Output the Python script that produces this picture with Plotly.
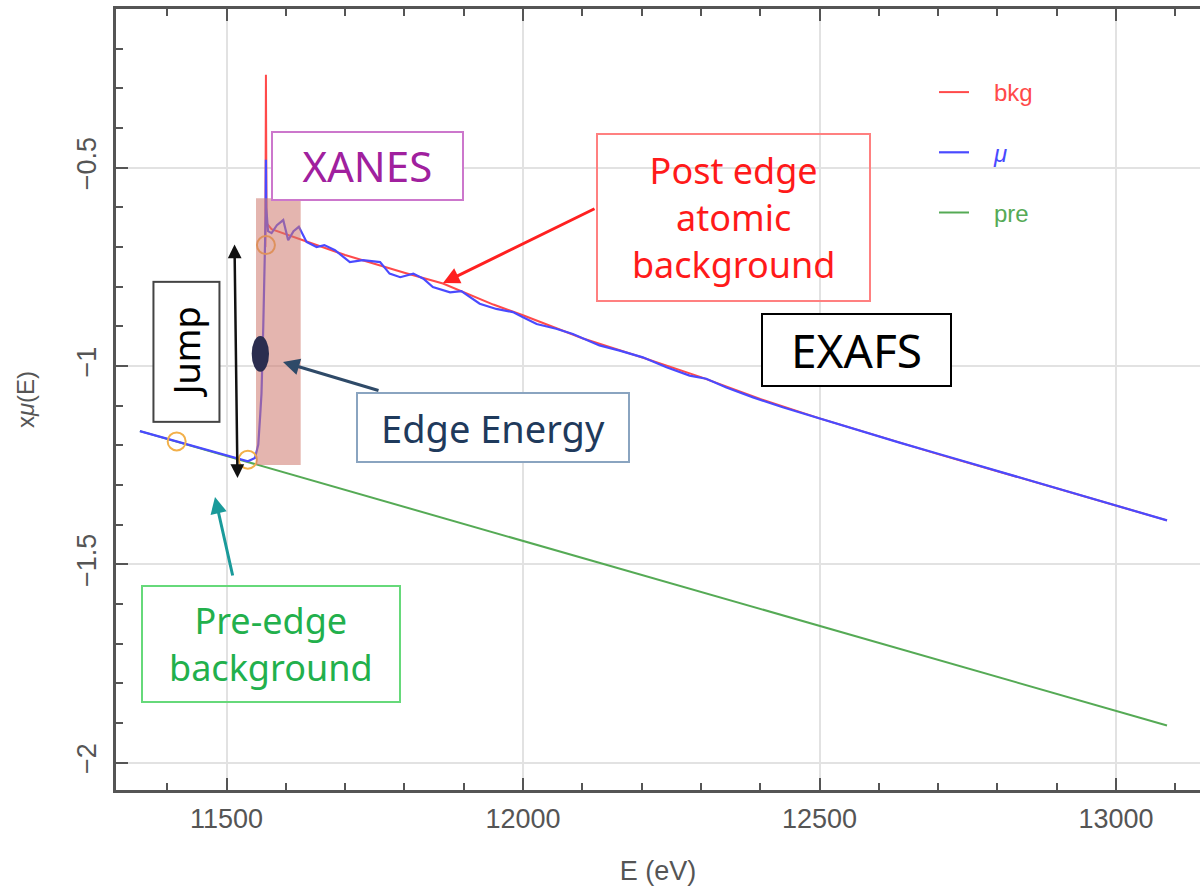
import plotly.graph_objects as go

# ---------------- data ----------------
pre_E = [11354, 13086]
pre_mu = [-1.164, -1.906]

mu_E = [11354, 11400, 11450, 11500, 11536, 11548, 11553.6, 11557, 11559, 11562, 11565,
        11566, 11566.5, 11567, 11570, 11576, 11585, 11595.7, 11604, 11613, 11622, 11635,
        11652, 11665, 11683, 11708, 11730, 11745, 11759, 11775, 11793, 11815, 11832, 11848,
        11877, 11896, 11910, 11927, 11955, 11983, 12000, 12023, 12056, 12084, 12129, 12163,
        12202, 12242, 12281, 12309, 12343, 12388, 12438, 12495, 12551, 12635, 12700, 12760,
        12830, 12900, 12960, 13030, 13086]
mu_val = [-1.164, -1.183, -1.205, -1.226, -1.240, -1.232, -1.198, -1.12, -1.07, -0.90, -0.733,
          -0.62, -0.48, -0.60, -0.66, -0.665, -0.645, -0.632, -0.683, -0.66, -0.649, -0.687,
          -0.700, -0.695, -0.708, -0.738, -0.733, -0.735, -0.738, -0.767, -0.776, -0.767, -0.780, -0.801,
          -0.814, -0.811, -0.826, -0.843, -0.856, -0.864, -0.877, -0.894, -0.906, -0.919, -0.948, -0.961,
          -0.978, -1.003, -1.024, -1.032, -1.054, -1.079, -1.104, -1.130, -1.155, -1.193, -1.221, -1.247,
          -1.278, -1.308, -1.334, -1.363, -1.389]

bkg_E = [11565.5, 11566.5, 11567.5, 11576, 11629, 11700, 11800, 11865, 11950, 12000, 12100,
         12200, 12300, 12400, 12500, 12600, 12700, 12800, 12900, 13000, 13086]
bkg_val = [-0.70, -0.266, -0.64, -0.655, -0.683, -0.720, -0.765, -0.792, -0.845, -0.872, -0.930,
           -0.978, -1.028, -1.083, -1.132, -1.177, -1.222, -1.265, -1.308, -1.352, -1.389]

marker_E = [11416, 11536, 11566.5]
marker_val = [-1.19, -1.236, -0.695]

# ---------------- helpers: pixel position -> data coords ----------------
def X(px):
    return 11500 + (px - 226.5) / 0.593

def Y(py):
    return -0.5 - (py - 167.7) / 396.7

RED = "#ff4a4a"
BLUE = "#4a4aff"
GREEN = "#55aa55"
AX = "#555555"
SANS = "Liberation Sans, Arial, sans-serif"
TICKFONT = dict(family=SANS, size=27, color="#555555")
ANNFONT = "Comic Sans MS, Noto Sans, sans-serif"
GAP = "\u00a0\u00a0\u00a0"

fig = go.Figure()
fig.add_trace(go.Scatter(x=pre_E, y=pre_mu, mode="lines", name=f"{GAP}<span style='color:{GREEN}'>pre</span>",
                         line=dict(color=GREEN, width=2), legendgroup="c", legendrank=3))
fig.add_trace(go.Scatter(x=bkg_E, y=bkg_val, mode="lines", name=f"{GAP}<span style='color:{RED}'>bkg</span>",
                         line=dict(color=RED, width=2), legendgroup="a", legendrank=1))
fig.add_trace(go.Scatter(x=mu_E, y=mu_val, mode="lines", name=f"{GAP}<span style='color:{BLUE}'><i>μ</i></span>",
                         line=dict(color=BLUE, width=2.2), legendgroup="b", legendrank=2))
fig.add_trace(go.Scatter(x=marker_E, y=marker_val, mode="markers", showlegend=False,
                         marker=dict(symbol="circle-open", size=18, color="#f2b04a", line=dict(width=2))))

x_range = [X(116), X(1200)]
y_range = [Y(790), Y(9)]

minor_x = dict(ticks="inside", ticklen=7, tickwidth=2, tickcolor=AX, dtick=100, showgrid=False)
minor_y = dict(ticks="inside", ticklen=7, tickwidth=2, tickcolor=AX, dtick=0.1, showgrid=False)

fig.update_layout(
    width=1200, height=891,
    margin=dict(l=116, r=0, t=9, b=101),
    paper_bgcolor="white", plot_bgcolor="white",
    showlegend=True,
    legend=dict(x=(934 - 116) / 1084, y=(790 - 70) / 781, xanchor="left", yanchor="top",
                bgcolor="rgba(0,0,0,0)", font=dict(family=SANS, size=24),
                tracegroupgap=26, traceorder="grouped", itemwidth=30),
    xaxis=dict(range=x_range, tickmode="linear", tick0=11500, dtick=500, tickformat="d",
               ticks="inside", ticklen=12, tickwidth=2, tickcolor=AX, mirror="ticks",
               showline=True, linecolor=AX, linewidth=2.5, showgrid=True, gridcolor="#e2e2e2", gridwidth=2,
               zeroline=False, tickfont=TICKFONT, ticklabelstandoff=3, minor=minor_x,
               title=dict(text="E (eV)", font=dict(family=SANS, size=27, color="#555555"), standoff=28)),
    yaxis=dict(range=y_range, tickmode="linear", tick0=0, dtick=0.5, ticks="inside", ticklen=12, tickwidth=2,
               tickcolor=AX, showline=True, linecolor=AX, linewidth=2.5, showgrid=True, gridcolor="#e2e2e2",
               gridwidth=2, zeroline=False, tickfont=TICKFONT, tickangle=-90, ticklabelstandoff=6,
               minor=minor_y,
               title=dict(text="x<i>μ</i>(E)", font=dict(family=SANS, size=24, color="#555555"), standoff=32)),
)

# shapes: XANES band and edge-energy marker
fig.add_shape(type="rect", xref="x", yref="y", x0=X(256), x1=X(300.7), y0=Y(465), y1=Y(198.3),
              fillcolor="rgba(205,120,110,0.55)", line=dict(width=0), layer="above")
fig.add_shape(type="circle", xref="x", yref="y", x0=X(251.7), x1=X(269), y0=Y(371.7), y1=Y(336),
              fillcolor="#2b2d4f", line=dict(width=0), layer="above")

def box(text, x0, x1, y0, y1, color, border, size, bg="rgba(0,0,0,0)", angle=0, bw=2):
    w, h = x1 - x0, y1 - y0
    if angle != 0:
        w, h = h, w
    fig.add_annotation(x=X((x0 + x1) / 2), y=Y((y0 + y1) / 2), xref="x", yref="y", text=text,
                       showarrow=False, xanchor="center", yanchor="middle", align="center", valign="middle",
                       width=w - bw, height=h - bw, borderpad=0, bordercolor=border, borderwidth=bw,
                       bgcolor=bg, textangle=angle, font=dict(family=ANNFONT, size=size, color=color))

def arrow(tip, tail, color, width=2.5, head=2, side="end", size=1.2):
    fig.add_annotation(x=X(tip[0]), y=Y(tip[1]), ax=X(tail[0]), ay=Y(tail[1]), xref="x", yref="y",
                       axref="x", ayref="y", text="", showarrow=True, arrowhead=head, arrowside=side,
                       arrowsize=size, arrowwidth=width, arrowcolor=color)

arrow((237.5, 478), (234.5, 243), "#111111", width=2.5, side="end+start", size=1.1)
arrow((443, 283), (596, 208), "#ff2020", width=3, size=1.1)
arrow((283, 362), (380, 391), "#2f4a68", width=3, size=1.1)
arrow((215, 497), (233, 577), "#1a9a9a", width=3, size=1.1)

box("XANES", 271.7, 462.3, 131.7, 199.3, "#a0209e", "#cc77cc", 42, bg="white")
box("Post edge<br>atomic<br>background", 596.7, 870, 133.3, 300.7, "#ff1a1a", "#ff8080", 36)
box("EXAFS", 761.7, 950.7, 314.3, 386, "black", "black", 46, bg="white")
box("Edge Energy", 357.3, 629.3, 392.7, 462, "#1f3a5c", "#8aa4c0", 38, bg="white")
box("Pre-edge<br>background", 141.7, 399.3, 586, 701.7, "#22b04c", "#66d97a", 36)
box("Jump", 153.3, 219, 281.7, 421.7, "black", "#444444", 36, bg="white", angle=-90)

fig.write_html("out.html")
